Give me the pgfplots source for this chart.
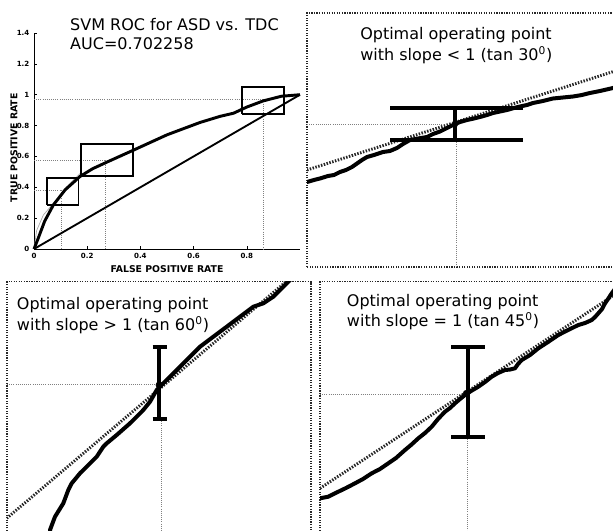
\documentclass[border=0pt]{standalone}
\usepackage{pgfplots}
\pgfplotsset{compat=1.18}
\usepackage{fontspec}
\setmainfont{DejaVu Sans}
\pgfplotsset{
  inset/.style={scale only axis, anchor=south west, xtick=\empty, ytick=\empty,
    axis line style={black!85, line width=0.9pt, densely dotted}},
  curve/.style={black, line width=3pt, line join=round, line cap=round},
  hatch/.style={black!85, line width=2.2pt, dash pattern=on 1.1pt off 1.1pt},
  ibar/.style={black, line width=3pt},
  guide/.style={black!50, densely dotted, line width=0.6pt},
}
\newcommand{\paneltext}{\fontsize{12}{14}\selectfont}
\begin{document}
\begin{tikzpicture}
\useasboundingbox (0,0) rectangle (459.75pt,398.25pt);
% ---------------- ROC panel ----------------
\begin{axis}[
  at={(25.5pt,211.5pt)}, anchor=south west, scale only axis,
  width=199.5pt, height=162pt,
  xmin=0, xmax=1, ymin=0, ymax=1.4,
  axis x line=bottom, axis y line=left,
  axis line style={-, black, line width=0.7pt},
  xtick={0,0.2,0.4,0.6,0.8}, xticklabels={0,0.2,0.4,0.6,0.8},
  ytick={0,0.2,0.4,0.6,0.8,1,1.2,1.4}, yticklabels={0,0.2,0.4,0.6,0.8,1,1.2,1.4},
  tick style={black, line width=0.4pt}, tick align=inside, major tick length=2pt,
  ticklabel style={font=\fontsize{5.3}{6}\selectfont\bfseries},
  xlabel={FALSE POSITIVE RATE}, ylabel={TRUE POSITIVE RATE},
  label style={font=\fontsize{7}{8}\selectfont\bfseries},
  xlabel style={at={(rel axis cs:0.5,-0.093)}, anchor=center},
  ylabel style={at={(rel axis cs:-0.075,0.469)}, anchor=center},
  clip=false,
]
% guide lines
\addplot[guide] coordinates {(0,0.383)(0.104,0.383)};
\addplot[guide] coordinates {(0.104,0.383)(0.104,0)};
\addplot[guide] coordinates {(0,0.575)(0.27,0.575)};
\addplot[guide] coordinates {(0.27,0.575)(0.27,0)};
\addplot[guide] coordinates {(0,0.97)(0.862,0.97)};
\addplot[guide] coordinates {(0.862,0.97)(0.862,0)};
% light gray companion curve
\addplot[black!35, line width=0.5pt] coordinates {(0,0)(0.01,0.12)(0.035,0.22)(0.07,0.29)(0.12,0.40)(0.18,0.50)};
% diagonal
\addplot[black, line width=1.4pt] coordinates {(0,0)(1,1)};
% ROC curve
\addplot[black, line width=2.2pt, line join=round] coordinates {
(0,0)(0.016,0.07)(0.04,0.18)(0.073,0.286)(0.117,0.383)(0.173,0.47)(0.22,0.52)(0.279,0.567)(0.373,0.64)
(0.5,0.74)(0.624,0.82)(0.7,0.86)(0.75,0.88)(0.80,0.92)(0.862,0.96)(0.93,0.99)(1.0,1.0)};
% boxes
\addplot[black, line width=1.3pt] coordinates {(0.05,0.286)(0.167,0.286)(0.167,0.459)(0.05,0.459)(0.05,0.286)};
\addplot[black, line width=1.3pt] coordinates {(0.177,0.474)(0.371,0.474)(0.371,0.682)(0.177,0.682)(0.177,0.474)};
\addplot[black, line width=1.3pt] coordinates {(0.783,0.877)(0.94,0.877)(0.94,1.05)(0.783,1.05)(0.783,0.877)};
% title
\node[anchor=base west, inner sep=0pt, font=\paneltext] at (axis cs:0.135,1.418) {SVM ROC for ASD vs. TDC};
\node[anchor=base west, inner sep=0pt, font=\paneltext] at (axis cs:0.135,1.292) {AUC=0.702258};
\end{axis}
% ---------------- Top-right inset: slope < 1 ----------------
\begin{axis}[inset, at={(230.25pt,198pt)}, width=231.75pt, height=190.5pt,
  xmin=307, xmax=616, ymin=264, ymax=518]
\addplot[guide] coordinates {(307,406.5)(442,406.5)};
\addplot[guide] coordinates {(456,391)(456,264)};
\addplot[hatch] coordinates {(307,361)(616,460.3)};
\addplot[curve] coordinates {(307,349)(314,351)(320,352.5)(328,355)(334,356)(340,359)(346,361)(352,364)(357,367.5)(362,371)(367,374)(374,376)(383,379)(390,380)(397,383)(403,387)(410,391)(418,392.5)(427,394)(433,397)(440,399.5)(447,403)(453,406)(460,409)(467,411)(474,412.5)(480,414)(487,416)(493,418)(500,419.5)(507,421)(514,423)(520,424.5)(527,426)(533,428)(543,430)(553,432.5)(563,433.5)(573,434.5)(582,436)(590,438)(600,440)(613,443)(616,444)};
\addplot[ibar] coordinates {(390,423)(523,423)};
\addplot[ibar] coordinates {(390,391)(523,391)};
\addplot[ibar] coordinates {(455,391)(455,423)};
\addplot[only marks, mark=*, mark size=2pt, black] coordinates {(455,406.5)};
\node[anchor=base west, inner sep=0pt, font=\paneltext] at (axis cs:360,491.7) {Optimal operating point};
\node[anchor=base west, inner sep=0pt, font=\paneltext] at (axis cs:360,470.5) {with slope < 1 (tan 30\textsuperscript{0})};
\end{axis}
% ---------------- Bottom-left inset: slope > 1 ----------------
\begin{axis}[inset, at={(5.25pt,-3.75pt)}, width=228pt, height=190.7pt,
  xmin=7, xmax=311, ymin=-5, ymax=249.3]
\addplot[guide] coordinates {(7,146.7)(155,146.7)};
\addplot[guide] coordinates {(161.3,112)(161.3,-5)};
\addplot[hatch] coordinates {(6.7,12.7)(292,254.4)};
\addplot[curve] coordinates {(50,-5)(50,1)(55,14.3)(63.3,27.7)(68.3,41)(71.7,47.7)(80,57.7)(86.7,64.3)(91.7,69.3)(96.7,74.3)(103.3,84.3)(106.7,87.7)(116.7,96)(130,107.7)(136.7,114.3)(143.3,121)(150,129.3)(156.7,141)(163.3,147.7)(170,154.3)(180,164.3)(190,174.3)(200,184.3)(213.3,194.3)(226.7,204.3)(240,214.3)(253.3,224.3)(263.3,227.7)(273.3,234.3)(280,241)(286.7,247.7)(291.7,252.7)};
\addplot[ibar] coordinates {(152.7,183.7)(166.7,183.7)};
\addplot[ibar] coordinates {(152.7,112)(166.7,112)};
\addplot[ibar] coordinates {(159.3,112)(159.3,183.7)};
\addplot[only marks, mark=*, mark size=2.5pt, black] coordinates {(159.3,146)};
\node[anchor=base west, inner sep=0pt, font=\paneltext] at (axis cs:16.7,221.7) {Optimal operating point};
\node[anchor=base west, inner sep=0pt, font=\paneltext] at (axis cs:16.7,201) {with slope > 1 (tan 60\textsuperscript{0})};
\end{axis}
% ---------------- Bottom-right inset: slope = 1 ----------------
\begin{axis}[inset, at={(240pt,-3.75pt)}, width=222pt, height=190.7pt,
  xmin=320, xmax=616, ymin=-5, ymax=249.3]
\addplot[guide] coordinates {(320,136.7)(462,136.7)};
\addplot[guide] coordinates {(467.7,94.3)(467.7,-5)};
\addplot[hatch] coordinates {(320,42.7)(616,237.2)};
\addplot[curve] coordinates {(320,32.7)(328.3,34.3)(338.3,39.3)(346,43)(355,47.7)(363,52)(371.7,57.7)(380,62)(388.3,67.7)(396,73)(405,81)(411,86)(418.3,92.7)(425,98)(431.7,104.3)(438,112)(445,119.3)(450,123)(455,127.7)(460,132)(465,136)(471,140)(478.3,144.3)(485,149)(491.7,154.3)(498,158)(505,161)(510,161.5)(515,162.7)(518,167)(521.7,171)(530,176)(538.3,182.7)(548,189)(558.3,196)(568,201)(578.3,206)(585,208)(591.7,211)(595,214)(598.3,217.7)(602,222)(605,227.7)(608,232)(611.7,237.7)(616.7,244.3)};
\addplot[ibar] coordinates {(451,183.7)(485,183.7)};
\addplot[ibar] coordinates {(451,94.3)(485,94.3)};
\addplot[ibar] coordinates {(467.7,94.3)(467.7,183.7)};
\addplot[only marks, mark=*, mark size=2pt, black] coordinates {(466,138)};
\node[anchor=base west, inner sep=0pt, font=\paneltext] at (axis cs:346.7,225) {Optimal operating point};
\node[anchor=base west, inner sep=0pt, font=\paneltext] at (axis cs:346.7,204.3) {with slope = 1 (tan 45\textsuperscript{0})};
\end{axis}
\end{tikzpicture}
\end{document}
